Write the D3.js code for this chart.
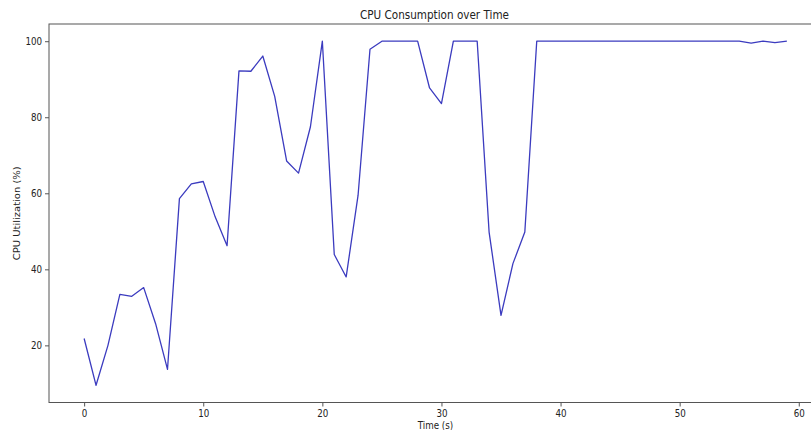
<!DOCTYPE html>
<html>
<head>
<meta charset="utf-8">
<script src="https://cdn.jsdelivr.net/npm/d3@7"></script>
<style>
  html, body { margin: 0; padding: 0; background: #fff; overflow: hidden; }
  svg { display: block; font-family: "DejaVu Sans", sans-serif; }
</style>
</head>
<body>
<svg id="chart" width="811" height="430"></svg>
<script>
// time in seconds, one sample per second
const times = d3.range(0, 60);
// CPU utilisation (%)
const cpuValues = [
  21.8, 9.5, 20.0, 33.4, 32.9, 35.2, 25.7, 13.7, 58.6, 62.5,
  63.1, 53.8, 46.2, 92.2, 92.1, 96.1, 85.5, 68.5, 65.3, 77.5,
  100, 43.9, 38.0, 59.5, 97.9, 100, 100, 100, 100, 87.7,
  83.6, 100, 100, 100, 49.8, 27.9, 41.5, 49.8, 100, 100,
  100, 100, 100, 100, 100, 100, 100, 100, 100, 100,
  100, 100, 100, 100, 100, 100, 99.5, 100, 99.6, 100
];
const xTicks = [0, 10, 20, 30, 40, 50, 60];
const yTicks = [20, 40, 60, 80, 100];

const titleText = 'CPU Consumption over Time';
const xLabel = 'Time (s)';
const yLabel = 'CPU Utilization (%)';

const svg = d3.select('#chart');
const plotLeft = 49, plotRight = 822, plotTop = 24, plotBottom = 402.5;
const squeeze = 'scale(0.87,1)';   // picture text is a bit narrow
const spineColor = '#555';

const data = times.map((t, i) => ({ t, v: cpuValues[i] }));

// matplotlib-style 5% margins
const xPad = (d3.max(times) - d3.min(times)) * 0.05;
const yExt = d3.extent(cpuValues);
const yPad = (yExt[1] - yExt[0]) * 0.05;

const x = d3.scaleLinear()
  .domain([d3.min(times) - xPad, d3.max(times) + xPad])
  .range([plotLeft, plotRight]);
const y = d3.scaleLinear()
  .domain([yExt[0] - yPad, yExt[1] + yPad])
  .range([plotBottom, plotTop]);

// Line
const line = d3.line().x(d => x(d.t)).y(d => y(d.v));
svg.append('path')
  .datum(data)
  .attr('fill', 'none')
  .attr('stroke', '#3b3bbf')
  .attr('stroke-width', 1.3)
  .attr('stroke-linejoin', 'round')
  .attr('d', line);

// Frame
svg.append('rect')
  .attr('x', plotLeft).attr('y', plotTop)
  .attr('width', plotRight - plotLeft).attr('height', plotBottom - plotTop)
  .attr('fill', 'none')
  .attr('stroke', spineColor)
  .attr('stroke-width', 1);

// Axes
const xAxis = svg.append('g')
  .attr('transform', `translate(0,${plotBottom})`)
  .call(d3.axisBottom(x).tickValues(xTicks).tickSize(4).tickSizeOuter(0).tickPadding(3));
const yAxis = svg.append('g')
  .attr('transform', `translate(${plotLeft},0)`)
  .call(d3.axisLeft(y).tickValues(yTicks).tickSize(4).tickSizeOuter(0).tickPadding(3));

[xAxis, yAxis].forEach(ax => {
  ax.select('.domain').remove();
  ax.selectAll('.tick line').attr('stroke', spineColor);
  ax.selectAll('.tick text')
    .attr('fill', '#222')
    .attr('font-size', 10)
    .attr('font-family', '"DejaVu Sans", sans-serif');
});
xAxis.selectAll('.tick text').attr('transform', squeeze);
yAxis.selectAll('.tick text').attr('transform', 'translate(-7,0) ' + squeeze).attr('x', 0);

// Title and labels
svg.append('text')
  .attr('transform', `translate(${(plotLeft + plotRight) / 2 - 1},${plotTop - 5}) ${squeeze}`)
  .attr('text-anchor', 'middle')
  .attr('font-size', 12)
  .attr('fill', '#222')
  .text(titleText);

svg.append('text')
  .attr('transform', `translate(${(plotLeft + plotRight) / 2},${plotBottom + 26}) ${squeeze}`)
  .attr('text-anchor', 'middle')
  .attr('font-size', 10)
  .attr('fill', '#222')
  .text(xLabel);

svg.append('text')
  .attr('transform', `translate(20,${(plotTop + plotBottom) / 2}) rotate(-90) scale(1,0.87)`)
  .attr('text-anchor', 'middle')
  .attr('font-size', 10)
  .attr('fill', '#222')
  .text(yLabel);
</script>
</body>
</html>
